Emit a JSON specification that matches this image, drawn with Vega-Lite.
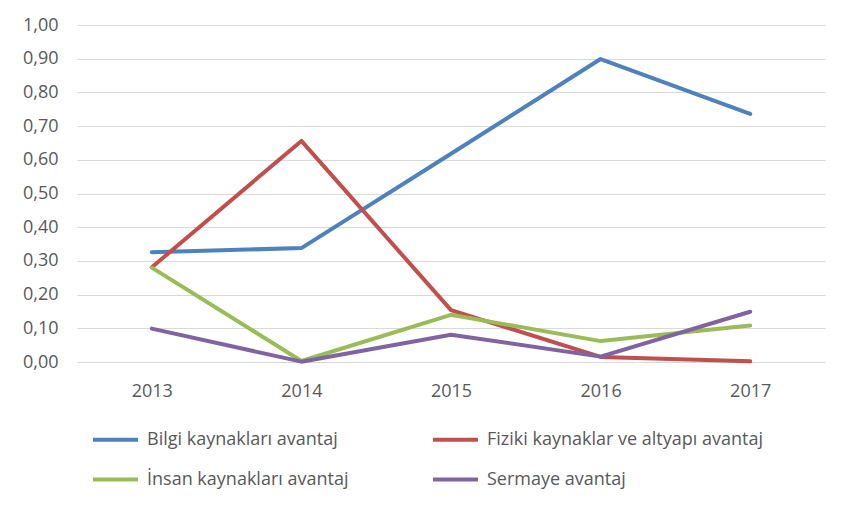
{
  "$schema": "https://vega.github.io/schema/vega-lite/v6.json",
  "width": 748,
  "height": 337,
  "autosize": {"type": "none"},
  "padding": {"left": 77, "top": 25, "right": 16, "bottom": 147},
  "background": "white",
  "data": {
    "values": [
      {"year": "2013", "series": "Bilgi kaynakları avantaj", "value": 0.326},
      {"year": "2014", "series": "Bilgi kaynakları avantaj", "value": 0.338},
      {"year": "2015", "series": "Bilgi kaynakları avantaj", "value": 0.618},
      {"year": "2016", "series": "Bilgi kaynakları avantaj", "value": 0.899},
      {"year": "2017", "series": "Bilgi kaynakları avantaj", "value": 0.736},
      {"year": "2013", "series": "Fiziki kaynaklar ve altyapı avantaj", "value": 0.281},
      {"year": "2014", "series": "Fiziki kaynaklar ve altyapı avantaj", "value": 0.656},
      {"year": "2015", "series": "Fiziki kaynaklar ve altyapı avantaj", "value": 0.154},
      {"year": "2016", "series": "Fiziki kaynaklar ve altyapı avantaj", "value": 0.015},
      {"year": "2017", "series": "Fiziki kaynaklar ve altyapı avantaj", "value": 0.002},
      {"year": "2013", "series": "İnsan kaynakları avantaj", "value": 0.28},
      {"year": "2014", "series": "İnsan kaynakları avantaj", "value": 0.003},
      {"year": "2015", "series": "İnsan kaynakları avantaj", "value": 0.14},
      {"year": "2016", "series": "İnsan kaynakları avantaj", "value": 0.062},
      {"year": "2017", "series": "İnsan kaynakları avantaj", "value": 0.108},
      {"year": "2013", "series": "Sermaye avantaj", "value": 0.099},
      {"year": "2014", "series": "Sermaye avantaj", "value": 0.001},
      {"year": "2015", "series": "Sermaye avantaj", "value": 0.081},
      {"year": "2016", "series": "Sermaye avantaj", "value": 0.016},
      {"year": "2017", "series": "Sermaye avantaj", "value": 0.149}
    ]
  },
  "mark": {"type": "line", "strokeWidth": 4, "strokeCap": "round", "strokeJoin": "round"},
  "encoding": {
    "x": {
      "field": "year",
      "type": "ordinal",
      "scale": {"type": "point", "padding": 0.5},
      "axis": {
        "title": null,
        "labelAngle": 0,
        "domain": false,
        "ticks": false,
        "grid": false,
        "labelPadding": 20,
        "labelFont": "Open Sans",
        "labelFontSize": 18,
        "labelColor": "#595959"
      }
    },
    "y": {
      "field": "value",
      "type": "quantitative",
      "scale": {"domain": [0, 1], "nice": false, "zero": true},
      "axis": {
        "title": null,
        "values": [0, 0.1, 0.2, 0.3, 0.4, 0.5, 0.6, 0.7, 0.8, 0.9, 1.0],
        "labelExpr": "replace(format(datum.value, '.2f'), '.', ',')",
        "domain": false,
        "ticks": false,
        "gridColor": "#D9D9D9",
        "gridWidth": 1,
        "labelPadding": 19,
        "labelFont": "Open Sans",
        "labelFontSize": 18,
        "labelColor": "#595959"
      }
    },
    "color": {
      "field": "series",
      "type": "nominal",
      "scale": {
        "domain": ["Bilgi kaynakları avantaj", "Fiziki kaynaklar ve altyapı avantaj", "İnsan kaynakları avantaj", "Sermaye avantaj"],
        "range": ["#4F81BD", "#C0504D", "#9BBB59", "#8064A2"]
      },
      "legend": {
        "title": null,
        "orient": "none",
        "legendX": 14,
        "legendY": 390,
        "direction": "horizontal",
        "columns": 2,
        "columnPadding": 76,
        "rowPadding": 6,
        "symbolType": "stroke",
        "symbolSize": 2025,
        "symbolStrokeWidth": 4,
        "labelOffset": 7,
        "labelFont": "Open Sans",
        "labelFontSize": 18,
        "labelColor": "#595959",
        "labelLimit": 400
      }
    }
  },
  "config": {"view": {"stroke": null}}
}
